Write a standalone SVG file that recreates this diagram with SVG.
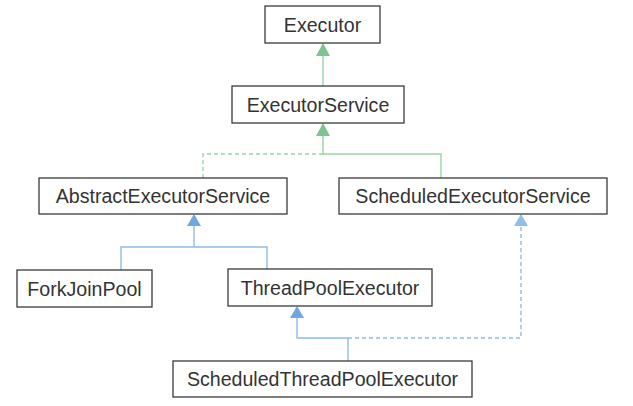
<svg xmlns="http://www.w3.org/2000/svg" width="633" height="406" viewBox="0 0 633 406">
<style>
.box rect{fill:#fff;stroke:#3a3a3a;stroke-width:1.3}
.box text{font-family:"Liberation Sans",Arial,sans-serif;font-size:19.6px;fill:#333;text-anchor:middle}
.g{stroke:#9ad3a8;stroke-width:1.4;fill:none}
.b{stroke:#8dbce8;stroke-width:1.4;fill:none}
.d{stroke-dasharray:4 3}
.ga{fill:#7ec48f}
.ba{fill:#6ea8e2}
</style>
<rect width="633" height="406" fill="#fff"/>
<g id="connectors">
<path class="g" d="M323 55V86"/>
<polygon class="ga" points="323,43 316,56 330,56"/>
<path class="g" d="M323 135V154H441V178"/>
<path class="g d" d="M323 154H203V178"/>
<polygon class="ga" points="323,123 316,136 330,136"/>
<path class="b" d="M194 225V247M121 270V247H267V269"/>
<polygon class="ba" points="194,214 187,226 201,226"/>
<path class="b" d="M297 318V338H348M348 338V361"/>
<polygon class="ba" points="297,306 290,318 304,318"/>
<path class="b d" d="M348 338H521V226"/>
<polygon class="ba" points="521,214 514,226 528,226" opacity="0.75"/>
</g>
<g id="executor" class="box"><rect x="265" y="6" width="115" height="37"/><text x="322.5" y="31.5">Executor</text></g>
<g id="executorService" class="box"><rect x="232" y="86" width="172" height="37"/><text x="318" y="111.5">ExecutorService</text></g>
<g id="abstractExecutorService" class="box"><rect x="39" y="178" width="248" height="36"/><text x="163" y="203">AbstractExecutorService</text></g>
<g id="scheduledExecutorService" class="box"><rect x="339" y="178" width="268" height="36"/><text x="473" y="203">ScheduledExecutorService</text></g>
<g id="forkJoinPool" class="box"><rect x="17" y="270" width="135" height="37"/><text x="84.5" y="295.5">ForkJoinPool</text></g>
<g id="threadPoolExecutor" class="box"><rect x="228" y="269" width="204" height="37"/><text x="330" y="294.5">ThreadPoolExecutor</text></g>
<g id="scheduledThreadPoolExecutor" class="box"><rect x="173" y="361" width="299" height="36"/><text x="322.5" y="386">ScheduledThreadPoolExecutor</text></g>
</svg>
